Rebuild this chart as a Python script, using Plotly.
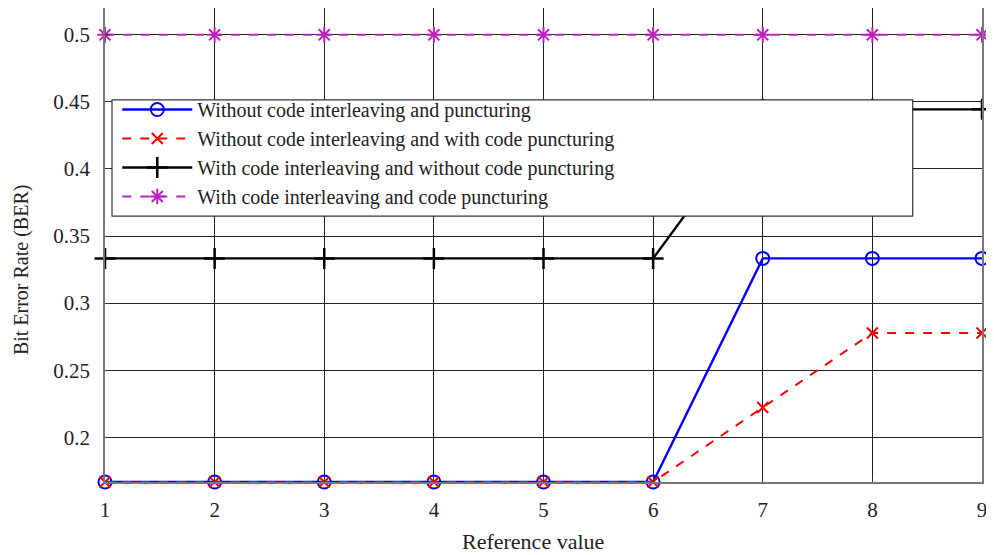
import plotly.graph_objects as go

x = [1, 2, 3, 4, 5, 6, 7, 8, 9]
names = [
    "Without code interleaving and puncturing",
    "Without code interleaving and with code puncturing",
    "With code interleaving and without code puncturing",
    "With code interleaving and code puncturing",
]
ber_no_int_no_punc = [1/6, 1/6, 1/6, 1/6, 1/6, 1/6, 1/3, 1/3, 1/3]
ber_no_int_punc = [1/6, 1/6, 1/6, 1/6, 1/6, 1/6, 2/9, 5/18, 5/18]
ber_int_no_punc = [1/3, 1/3, 1/3, 1/3, 1/3, 1/3, 4/9, 4/9, 4/9]
ber_int_punc = [0.5, 0.5, 0.5, 0.5, 0.5, 0.5, 0.5, 0.5, 0.5]

y_ticks = [0.2, 0.25, 0.3, 0.35, 0.4, 0.45, 0.5]
y_tick_text = ["0.2", "0.25", "0.3", "0.35", "0.4", "0.45", "0.5"]
x_title = "Reference value"
y_title = "Bit Error Rate (BER)"

font = "Liberation Serif, Times New Roman, serif"

fig = go.Figure()
fig.add_trace(go.Scatter(x=x, y=ber_no_int_no_punc, name=names[0], mode="lines+markers",
                         line=dict(color="#0000FF", width=2.4),
                         marker=dict(symbol="circle-open", size=13, color="#0000FF", line=dict(width=2)),
                         cliponaxis=False))
fig.add_trace(go.Scatter(x=x, y=ber_no_int_punc, name=names[1], mode="lines+markers",
                         line=dict(color="#FF0000", width=2, dash="dash"),
                         marker=dict(symbol="x-thin-open", size=11, color="#FF0000", line=dict(width=2, color="#FF0000")),
                         cliponaxis=False))
fig.add_trace(go.Scatter(x=x, y=ber_int_no_punc, name=names[2], mode="lines+markers",
                         line=dict(color="#000000", width=2.4),
                         marker=dict(symbol="cross-thin-open", size=15, color="#000000", line=dict(width=2.5, color="#000000")),
                         cliponaxis=False))
fig.add_trace(go.Scatter(x=x, y=ber_int_punc, name=names[3], mode="lines+markers",
                         line=dict(color="#C020C0", width=2, dash="dash"),
                         marker=dict(symbol="asterisk-open", size=13, color="#C020C0", line=dict(width=2, color="#C020C0")),
                         cliponaxis=False))

# legend box (wide white rectangle as in the original)
fig.add_shape(type="rect", xref="paper", yref="paper", x0=0.008, x1=0.921, y0=0.561, y1=0.806,
              fillcolor="white", line=dict(color="#333333", width=1.2), layer="above")

fig.add_annotation(text=x_title, xref="paper", yref="paper", x=0.488, y=0, yshift=-59,
                   xanchor="center", yanchor="middle", showarrow=False,
                   font=dict(family=font, size=22, color="#222222"))
fig.add_annotation(text=y_title, xref="paper", yref="paper", x=0, xshift=-84, y=0.447,
                   xanchor="center", yanchor="middle", showarrow=False, textangle=-90,
                   font=dict(family=font, size=20, color="#222222"))

fig.update_layout(
    width=986, height=547,
    margin=dict(l=97, r=12, t=0, b=73),
    paper_bgcolor="white", plot_bgcolor="white",
    font=dict(family=font, size=20, color="#222222"),
    showlegend=True,
    legend=dict(x=0.014, y=0.827, xanchor="left", yanchor="top",
                bgcolor="rgba(0,0,0,0)", borderwidth=0,
                font=dict(family=font, size=20, color="#222222"),
                tracegroupgap=0, itemwidth=70),
    xaxis=dict(range=[1, 9], tickmode="array", tickvals=x, ticktext=[str(v) for v in x],
               showgrid=True, gridcolor="#222222", gridwidth=1,
               showline=True, linecolor="#777777", linewidth=1.5, mirror=True,
               ticks="inside", ticklen=5, tickcolor="#333333",
               zeroline=False, automargin=False, ticklabelstandoff=8,
               tickfont=dict(family=font, size=21)),
    yaxis=dict(range=[1/6, 0.52], tickmode="array", tickvals=y_ticks, ticktext=y_tick_text,
               showgrid=True, gridcolor="#222222", gridwidth=1,
               showline=True, linecolor="#777777", linewidth=1.5, mirror=True,
               ticks="inside", ticklen=5, tickcolor="#333333",
               zeroline=False, automargin=False, ticklabelstandoff=9,
               tickfont=dict(family=font, size=21)),
)

fig.write_html("out.html")
